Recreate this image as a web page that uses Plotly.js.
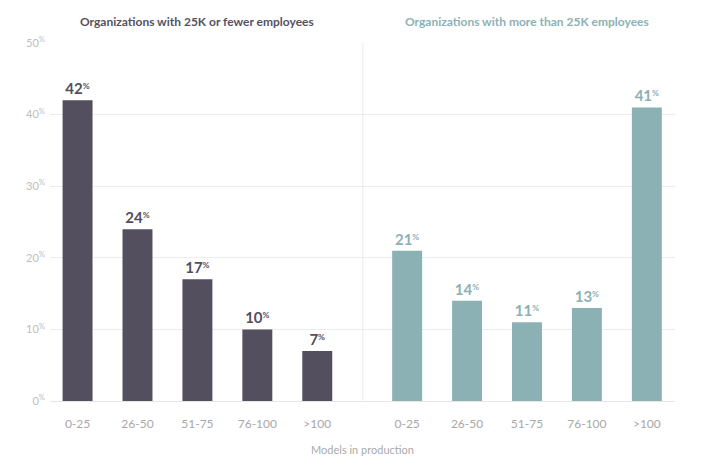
<!DOCTYPE html>
<html><head><meta charset="utf-8">
<script src="https://cdn.plot.ly/plotly-3.0.1.min.js"></script>
<style>html,body{margin:0;padding:0;background:#fff;}#chart{width:703px;height:466px;}</style>
</head><body><div id="chart"></div>
<script>
const categories = ["0-25","26-50","51-75","76-100",">100"];
const smallOrgs = [42,24,17,10,7];
const largeOrgs = [21,14,11,13,41];
const groupTitles = ["Organizations with 25K or fewer employees","Organizations with more than 25K employees"];
const yTicks = [0,10,20,30,40,50];
const xTitle = "Models in production";

const posA = categories.map((c,i)=>i);
const posB = categories.map((c,i)=>i+5.5);
const colA = "#534f5f", colB = "#8cb1b5";

function trace(x, y, color){
  return {type:"bar", x:x, y:y, width:0.5, marker:{color:color},
    text:y.map(v=>"<b>"+v+"<span style='font-size:12px'><sup>%</sup></span></b>"), textposition:"outside",
    textfont:{family:"Lato, sans-serif", size:15, color:color},
    cliponaxis:false, hoverinfo:"none", showlegend:false};
}

const data = [trace(posA, smallOrgs, colA), trace(posB, largeOrgs, colB)];

const layout = {
  width:703, height:466,
  margin:{l:50, r:28, t:43, b:65},
  paper_bgcolor:"#fff", plot_bgcolor:"#fff",
  font:{family:"Lato, sans-serif", color:"#b5b5b5"},
  xaxis:{range:[-0.46,9.97], tickvals:posA.concat(posB), ticktext:categories.concat(categories),
    showgrid:false, zeroline:false, showline:false, ticks:"", tickfont:{size:12, color:"#a8a8a8"},
    ticklabelstandoff:14,
    title:{text:xTitle, font:{size:11, color:"#aaaaaa"}, standoff:16}},
  yaxis:{range:[0,50], tickvals:yTicks, ticktext:yTicks.map(v=>v+"<sup>%</sup>"),
    showgrid:true, gridcolor:"#ececec", gridwidth:1, zeroline:true, zerolinecolor:"#e6e6e6",
    showline:false, ticks:"", tickfont:{size:11, color:"#bdbdbd"}, ticklabelstandoff:4},
  shapes:[{type:"line", xref:"x", yref:"y", x0:4.76, x1:4.76, y0:0, y1:50, line:{color:"#ececec", width:1}}],
  annotations:[
    {text:"<b>"+groupTitles[0]+"</b>", x:2, y:1, xref:"x", yref:"paper", yshift:22, xanchor:"center", yanchor:"middle", showarrow:false, font:{size:12, color:"#55525f"}},
    {text:"<b>"+groupTitles[1]+"</b>", x:7.5, y:1, xref:"x", yref:"paper", yshift:22, xanchor:"center", yanchor:"middle", showarrow:false, font:{size:12, color:"#8cb1b5"}}
  ]
};
Plotly.newPlot("chart", data, layout, {displayModeBar:false, staticPlot:true});
</script></body></html>
